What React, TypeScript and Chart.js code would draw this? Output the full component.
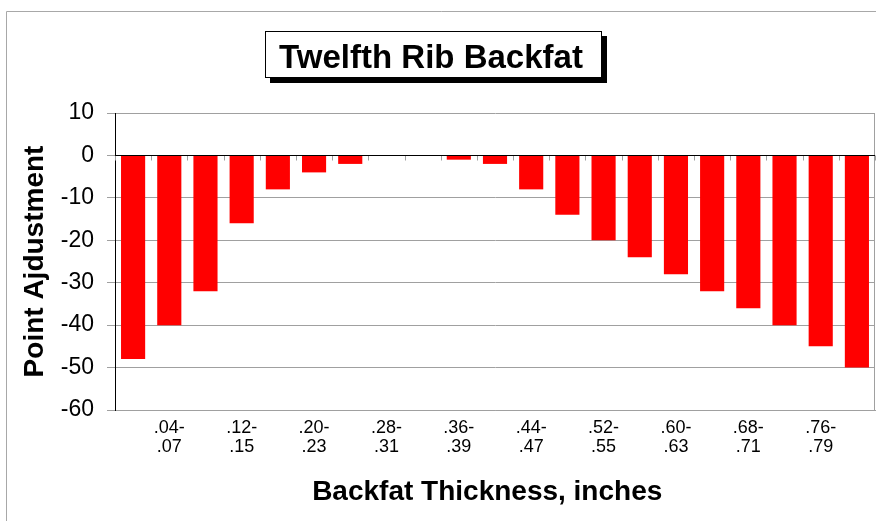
import React, { useEffect, useRef } from "react";
import { Chart, registerables } from "chart.js";

Chart.register(...registerables);

const chartTitle = "Twelfth Rib Backfat";
const yAxisTitle = "Point Ajdustment";
const xAxisTitle = "Backfat Thickness, inches";

const categories = [
  ".00-.03", ".04-.07", ".08-.11", ".12-.15", ".16-.19", ".20-.23", ".24-.27",
  ".28-.31", ".32-.35", ".36-.39", ".40-.43", ".44-.47", ".48-.51", ".52-.55",
  ".56-.59", ".60-.63", ".64-.67", ".68-.71", ".72-.75", ".76-.79", ".80-.83",
];

const pointAdjustment = [
  -48, -40, -32, -16, -8, -4, -2, 0, 0, -1, -2, -8, -14, -20, -24, -28, -32, -36, -40, -45, -50,
];

const yMin = -60;
const yMax = 10;
const yStep = 10;

const FONT = "'Liberation Sans', Arial, Helvetica, sans-serif";
const GRAY = "#a0a0a0";

const decorPlugin = {
  id: "decor",
  afterDatasetsDraw(chart: any) {
    const { ctx, chartArea, scales } = chart;
    const x = scales.x;
    const y = scales.y;
    const y0 = Math.round(y.getPixelForValue(0)) + 0.5;
    ctx.save();
    ctx.strokeStyle = GRAY;
    ctx.lineWidth = 1;
    const n = categories.length;
    const half = (x.getPixelForValue(1) - x.getPixelForValue(0)) / 2;
    for (let i = 0; i <= n; i++) {
      const px = Math.round(x.getPixelForValue(i) - half) + 0.5;
      ctx.beginPath();
      ctx.moveTo(px, y0);
      ctx.lineTo(px, y0 + 5);
      ctx.stroke();
    }
    ctx.beginPath();
    const rx = Math.round(chartArea.right) - 0.5;
    ctx.moveTo(rx, chartArea.top);
    ctx.lineTo(rx, chartArea.bottom);
    ctx.stroke();
    ctx.strokeStyle = "#000";
    ctx.beginPath();
    ctx.moveTo(chartArea.left, y0);
    ctx.lineTo(chartArea.right, y0);
    ctx.stroke();
    ctx.restore();
  },
  afterDraw(chart: any) {
    const { ctx } = chart;
    ctx.save();
    ctx.strokeStyle = "#a8a8a8";
    ctx.lineWidth = 1;
    ctx.beginPath();
    ctx.moveTo(6.5, chart.height + 2);
    ctx.lineTo(6.5, 11.5);
    ctx.lineTo(chart.width + 2, 11.5);
    ctx.stroke();
    const bx = 265, by = 31, bw = 336, bh = 46;
    ctx.fillStyle = "#000";
    ctx.fillRect(bx + 5, by + 5, bw + 1, bh + 1);
    ctx.fillStyle = "#fff";
    ctx.fillRect(bx, by, bw, bh);
    ctx.strokeStyle = "#000";
    ctx.strokeRect(bx + 0.5, by + 0.5, bw, bh);
    ctx.fillStyle = "#000";
    ctx.font = `bold 33px ${FONT}`;
    ctx.textAlign = "center";
    ctx.textBaseline = "alphabetic";
    ctx.fillText(chartTitle, 431, 67.5);
    ctx.restore();
  },
};

export default function App() {
  const canvasRef = useRef<HTMLCanvasElement | null>(null);

  useEffect(() => {
    const canvas = canvasRef.current;
    if (!canvas) return;
    const chart = new Chart(canvas, {
      type: "bar",
      data: {
        labels: categories,
        datasets: [
          {
            data: pointAdjustment,
            backgroundColor: "#ff0000",
            borderWidth: 0,
            categoryPercentage: 1,
            barPercentage: 0.667,
          },
        ],
      },
      options: {
        responsive: false,
        animation: false,
        events: [],
        layout: { padding: { top: 113, right: 1, left: 0, bottom: 0 } },
        plugins: {
          legend: { display: false },
          tooltip: { enabled: false },
          title: { display: false },
        },
        scales: {
          x: {
            type: "category",
            offset: true,
            grid: { display: true, drawOnChartArea: false, drawTicks: false },
            border: { display: true, color: GRAY, width: 1 },
            ticks: {
              autoSkip: false,
              maxRotation: 0,
              minRotation: 0,
              padding: 9,
              color: "#000",
              font: { family: FONT, size: 18, lineHeight: 1.04 },
              callback: (_v: any, index: number) => {
                if (index % 2 !== 1) return "";
                const [a, b] = categories[index].split("-");
                return [a + "-", b];
              },
            },
            title: {
              display: true,
              text: xAxisTitle + "  ",
              color: "#000",
              font: { family: FONT, size: 28, weight: "bold", lineHeight: 1.2 },
              padding: { top: 0, bottom: 12 },
            },
            afterFit: (scale: any) => {
              scale.height = 111;
            },
          },
          y: {
            min: yMin,
            max: yMax,
            ticks: {
              stepSize: yStep,
              padding: 13,
              color: "#000",
              font: { family: FONT, size: 23 },
            },
            grid: {
              color: (c: any) => (c.tick && c.tick.value === 0 ? "#000" : GRAY),
              tickColor: GRAY,
              tickLength: 8,
              lineWidth: 1,
            },
            border: { display: true, color: "#000", width: 1 },
            title: {
              display: true,
              text: yAxisTitle,
              color: "#000",
              font: { family: FONT, size: 28, weight: "bold", lineHeight: 1.2 },
              padding: { top: 18.5, bottom: 0 },
            },
            afterFit: (scale: any) => {
              scale.width = 115;
            },
          },
        },
      },
      plugins: [decorPlugin],
    } as any);
    return () => chart.destroy();
  }, []);

  return (
    <div style={{ position: "absolute", left: 0, top: 0, width: 876, height: 521, background: "#fff" }}>
      <canvas ref={canvasRef} width={876} height={521} style={{ display: "block", width: 876, height: 521 }} />
    </div>
  );
}
